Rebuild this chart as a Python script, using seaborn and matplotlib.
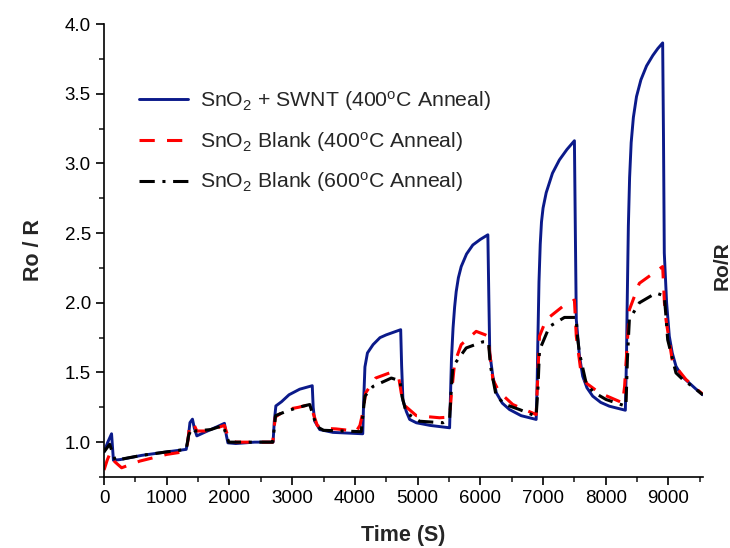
import numpy as np
import pandas as pd
import matplotlib
matplotlib.use("Agg")
import matplotlib.pyplot as plt
import seaborn as sns

# ---- data ----
swnt_t = [0, 60, 120, 150, 260, 600, 1000, 1310, 1340, 1370, 1410, 1440, 1480, 1600, 1800, 1920, 1950, 1975,
          2100, 2400, 2695, 2715, 2740, 2830, 2950, 3120, 3320, 3335, 3360, 3440, 3650, 4125, 4140, 4160, 4200,
          4290, 4400, 4500, 4730, 4745, 4766, 4820, 4873, 4980, 5200, 5510, 5525, 5540, 5565, 5590, 5615, 5650,
          5695, 5780, 5880, 6000, 6120, 6135, 6150, 6200, 6255, 6350, 6465, 6650, 6890, 6905, 6916, 6935, 6955,
          6975, 7000, 7050, 7150, 7260, 7380, 7500, 7515, 7530, 7580, 7632, 7700, 7792, 7920, 8057, 8312, 8330,
          8340, 8360, 8380, 8405, 8440, 8490, 8560, 8650, 8750, 8830, 8907, 8920, 8933, 8970, 9013, 9060, 9120,
          9220, 9330, 9440, 9545]
swnt_v = [0.93, 1.00, 1.06, 0.87, 0.875, 0.905, 0.93, 0.948, 1.02, 1.14, 1.165, 1.10, 1.045, 1.07, 1.11, 1.135,
          1.05, 0.995, 0.99, 1.0, 1.0, 1.15, 1.26, 1.29, 1.34, 1.38, 1.405, 1.25, 1.15, 1.09, 1.07, 1.06, 1.30,
          1.54, 1.64, 1.70, 1.75, 1.77, 1.807, 1.55, 1.30, 1.22, 1.163, 1.139, 1.12, 1.103, 1.35, 1.60, 1.82,
          1.97, 2.08, 2.18, 2.26, 2.35, 2.415, 2.455, 2.488, 2.05, 1.64, 1.47, 1.354, 1.28, 1.234, 1.19, 1.163,
          1.40, 1.70, 2.15, 2.42, 2.58, 2.68, 2.79, 2.93, 3.025, 3.10, 3.163, 2.5, 1.879, 1.62, 1.473, 1.39, 1.33,
          1.285, 1.258, 1.229, 1.6, 1.95, 2.55, 2.90, 3.15, 3.33, 3.48, 3.60, 3.70, 3.775, 3.825, 3.865, 3.2,
          2.357, 2.0, 1.76, 1.64, 1.544, 1.47, 1.425, 1.38, 1.34]

blank400_t = [0, 50, 100, 170, 280, 570, 1000, 1260, 1320, 1360, 1420, 1480, 1700, 1850, 1920, 1990, 2100, 2690,
              2730, 2909, 3100, 3280, 3340, 3400, 3480, 3700, 4023, 4080, 4130, 4172, 4331, 4554, 4700, 4740,
              4800, 4980, 5350, 5510, 5540, 5590, 5695, 5934, 6080, 6120, 6160, 6200, 6300, 6518, 6890, 6943,
              7049, 7314, 7500, 7530, 7606, 7700, 7898, 8269, 8300, 8376, 8535, 8907, 8935, 8960, 9066, 9278,
              9490, 9545]
blank400_v = [0.80, 0.87, 0.925, 0.86, 0.816, 0.864, 0.912, 0.93, 0.95, 1.10, 1.14, 1.08, 1.08, 1.11, 1.12, 1.02,
              1.0, 1.0, 1.18, 1.234, 1.25, 1.27, 1.20, 1.12, 1.10, 1.095, 1.079, 1.12, 1.22, 1.354, 1.46, 1.497,
              1.46, 1.35, 1.26, 1.19, 1.175, 1.18, 1.35, 1.569, 1.70, 1.795, 1.77, 1.76, 1.60, 1.45, 1.36, 1.27,
              1.198, 1.76, 1.879, 1.974, 2.02, 1.76, 1.497, 1.42, 1.354, 1.282, 1.4, 1.95, 2.14, 2.26, 2.0, 1.879,
              1.569, 1.45, 1.365, 1.345]

blank600_t = [0, 90, 130, 180, 300, 600, 1000, 1310, 1350, 1400, 1450, 1700, 1900, 1950, 1990, 2690, 2735, 2909,
              3100, 3280, 3340, 3400, 3500, 4100, 4140, 4160, 4289, 4581, 4720, 4750, 4820, 5032, 5403, 5510,
              5540, 5562, 5775, 6040, 6130, 6160, 6253, 6400, 6624, 6890, 6920, 6943, 7102, 7341, 7527, 7550,
              7580, 7686, 7800, 8004, 8322, 8345, 8376, 8535, 8800, 8933, 8960, 8987, 9119, 9250, 9384, 9545]
blank600_v = [0.93, 0.985, 0.93, 0.87, 0.88, 0.905, 0.93, 0.948, 1.05, 1.10, 1.08, 1.09, 1.12, 1.05, 1.0, 1.0,
              1.19, 1.222, 1.25, 1.27, 1.18, 1.11, 1.085, 1.075, 1.25, 1.33, 1.40, 1.46, 1.44, 1.33, 1.21, 1.15,
              1.139, 1.17, 1.40, 1.544, 1.676, 1.72, 1.72, 1.55, 1.33, 1.27, 1.234, 1.186, 1.4, 1.66, 1.83, 1.895,
              1.895, 1.75, 1.64, 1.425, 1.36, 1.306, 1.258, 1.6, 1.88, 2.0, 2.07, 2.05, 1.90, 1.735, 1.497, 1.44,
              1.40, 1.34]

labels = ["SnO$_2$ + SWNT (400$^\\mathrm{o}$C Anneal)",
          "SnO$_2$ Blank (400$^\\mathrm{o}$C Anneal)",
          "SnO$_2$ Blank (600$^\\mathrm{o}$C Anneal)"]
x_ticks = [0, 1000, 2000, 3000, 4000, 5000, 6000, 7000, 8000, 9000]
y_ticks = [1.0, 1.5, 2.0, 2.5, 3.0, 3.5, 4.0]

# ---- style ----
sns.set_style("ticks")
plt.rcParams['font.family'] = ['Liberation Sans', 'DejaVu Sans']
plt.rcParams['mathtext.fontset'] = 'custom'
plt.rcParams['mathtext.rm'] = 'Liberation Sans'
plt.rcParams['mathtext.it'] = 'Liberation Sans:italic'
plt.rcParams['mathtext.bf'] = 'Liberation Sans:bold'

fig = plt.figure(figsize=(7.3, 5.48), dpi=100)
ax = fig.add_axes([0.1425, 0.1296, 0.963 - 0.1425, 0.956 - 0.1296])

df1 = pd.DataFrame({"t": swnt_t, "v": swnt_v})
df2 = pd.DataFrame({"t": blank400_t, "v": blank400_v})
df3 = pd.DataFrame({"t": blank600_t, "v": blank600_v})

sns.lineplot(data=df1, x="t", y="v", ax=ax, color="#0b1a8a", lw=2.1, sort=False, estimator=None, label=labels[0])
sns.lineplot(data=df2, x="t", y="v", ax=ax, color="#ff0000", lw=2.2, sort=False, estimator=None, label=labels[1])
sns.lineplot(data=df3, x="t", y="v", ax=ax, color="black", lw=2.2, sort=False, estimator=None, label=labels[2])
ax.lines[1].set_linestyle((0, (5, 4)))
ax.lines[2].set_linestyle((0, (5, 2.5, 1, 2.5)))

ax.set_xlim(0, 9550)
ax.set_ylim(0.75, 4.0)
ax.set_xticks(x_ticks)
ax.set_xticks(np.arange(500, 9600, 1000), minor=True)
ax.set_yticks(y_ticks)
ax.set_yticks(np.arange(0.75, 4.0, 0.5), minor=True)
ax.set_xticklabels([str(v) for v in x_ticks])
ax.set_yticklabels([f"{v:.1f}" for v in y_ticks])
ax.tick_params(axis='both', which='major', direction='out', length=6, width=1.2, labelsize=13.5, colors='black')
ax.tick_params(axis='both', which='minor', direction='out', length=3.5, width=1.2)
for s in ['top', 'right']:
    ax.spines[s].set_visible(False)
for s in ['left', 'bottom']:
    ax.spines[s].set_linewidth(1.2)
    ax.spines[s].set_color('black')

ax.set_xlabel("Time (S)", fontsize=15.5, fontweight='bold', labelpad=13)
ax.set_ylabel("Ro / R", fontsize=15.5, fontweight='bold', labelpad=15)
fig.text(0.989, 0.515, "Ro/R", rotation=90, fontsize=15, fontweight='bold', ha='center', va='center')

leg = ax.legend(loc='upper left', bbox_to_anchor=(0.045, 0.875), frameon=False, fontsize=15.3,
                handlelength=2.3, handletextpad=0.55, labelspacing=0.78, borderaxespad=0)

fig.savefig("out.png", dpi=100)
